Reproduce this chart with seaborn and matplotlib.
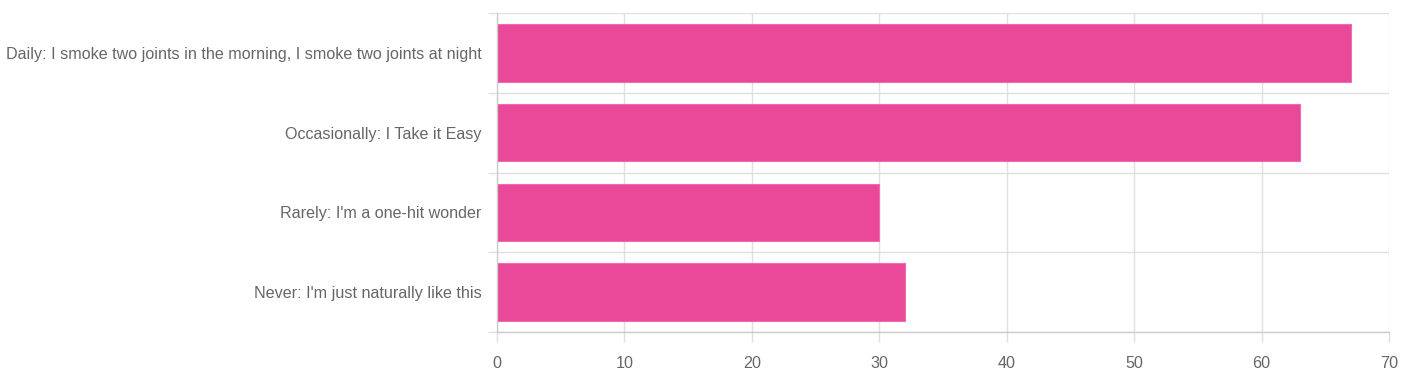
import matplotlib
matplotlib.use("Agg")
import matplotlib.pyplot as plt
import seaborn as sns
import pandas as pd
import numpy as np

categories = [
    "Daily: I smoke two joints in the morning, I smoke two joints at night",
    "Occasionally: I Take it Easy",
    "Rarely: I'm a one-hit wonder",
    "Never: I'm just naturally like this",
]
values = [67, 63, 30, 32]
x_ticks = [0, 10, 20, 30, 40, 50, 60, 70]

sns.set_style("white")
plt.rcParams["font.family"] = ["Liberation Sans", "DejaVu Sans"]

df = pd.DataFrame({"category": categories, "value": values})

fig = plt.figure(figsize=(14.1, 3.84), dpi=100)
ax = fig.add_axes([497/1410, 1-332/384, (1389-497)/1410, (332-13)/384])

sns.barplot(data=df, y="category", x="value", orient="h", color="#EA4899",
            saturation=1, width=0.72, ax=ax, edgecolor="#F06AAE", linewidth=0.8)

ax.set_xlim(0, 70)
ax.set_ylim(len(categories) - 0.5, -0.5)
ax.set_xticks(x_ticks)
ax.set_xlabel("")
ax.set_ylabel("")

ax.set_yticks(np.arange(-0.5, len(categories), 1), minor=True)
ax.grid(True, axis="x", which="major", color="#e0e0e0", linewidth=1)
ax.grid(True, axis="y", which="minor", color="#e0e0e0", linewidth=1)
ax.set_axisbelow(True)

for s in ["top", "right"]:
    ax.spines[s].set_visible(False)
ax.spines["left"].set_color("#cccccc")
ax.spines["bottom"].set_color("#cccccc")
ax.spines["left"].set_linewidth(1)
ax.spines["bottom"].set_linewidth(1)

ax.tick_params(axis="y", which="major", left=False, length=0, pad=11, labelsize=11.6, labelcolor="#666666")
ax.tick_params(axis="y", which="minor", left=True, length=6.5, color="#e0e0e0", width=1)
ax.tick_params(axis="x", which="major", bottom=True, length=7, color="#e0e0e0", width=1, pad=10,
               labelsize=11.6, labelcolor="#666666")

fig.savefig("out.png", dpi=100)
